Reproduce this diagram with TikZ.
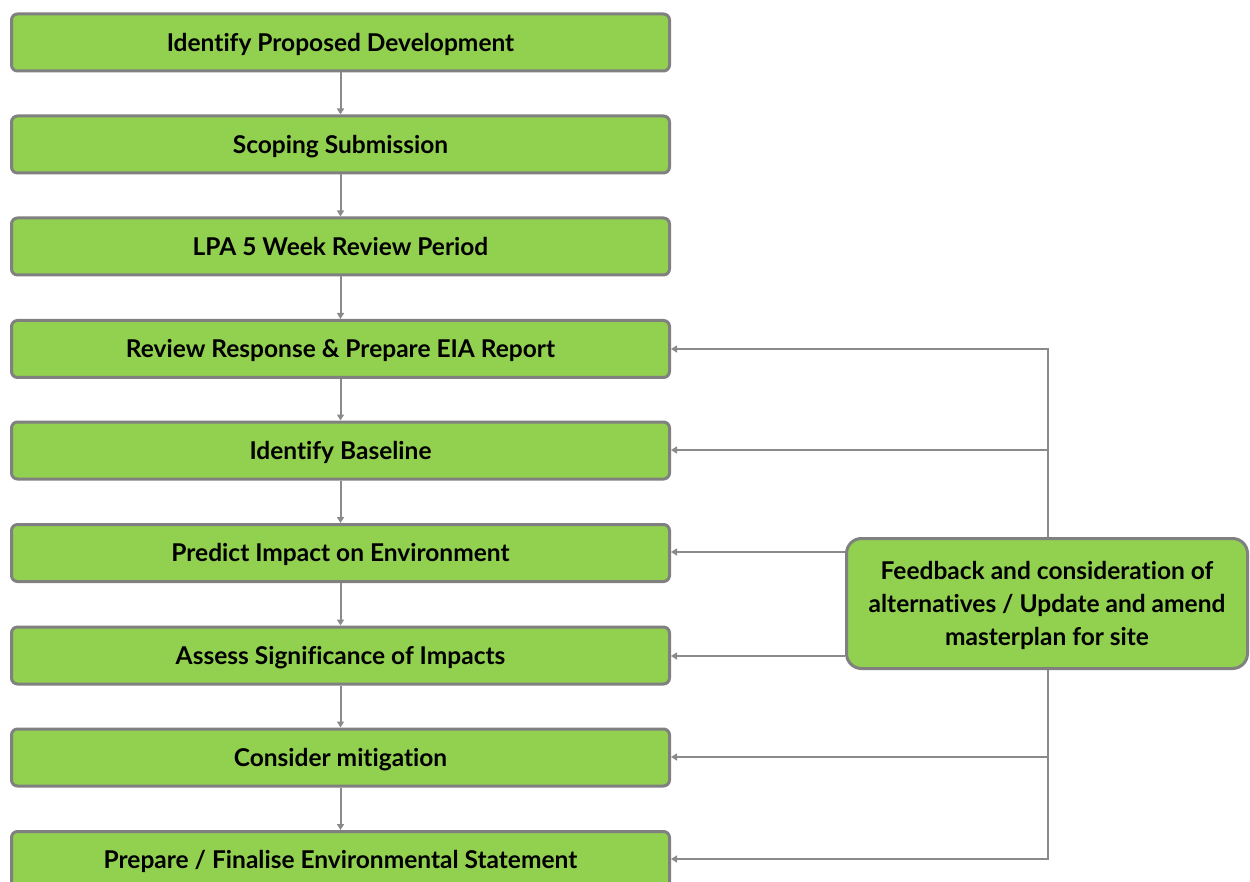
\documentclass[tikz,border=0pt]{standalone}
\usepackage{fontspec}
\setmainfont[Ligatures=NoCommon]{Lato}
\usetikzlibrary{arrows.meta}
\definecolor{boxgreen}{HTML}{92D050}
\definecolor{boxgray}{HTML}{808080}
\definecolor{linegray}{HTML}{8A8A8A}
\begin{document}
\begin{tikzpicture}[x=1pt,y=-1pt,
  stepbox/.style={draw=boxgray, line width=3pt, fill=boxgreen, rounded corners=6pt,
    minimum width=658pt, minimum height=57pt, inner sep=0pt,
    text height=17.5pt, text depth=0pt,
    font=\bfseries\fontsize{24.5}{28}\selectfont},
  fbbox/.style={draw=boxgray, line width=3pt, fill=boxgreen, rounded corners=15pt,
    minimum width=401pt, minimum height=130pt, inner sep=0pt},
  fbtextstyle/.style={font=\bfseries\fontsize{24.5}{33}\selectfont, align=center, inner sep=0pt},
  conn/.style={draw=linegray, line width=2pt},
  arr/.style={conn, -{Triangle[length=6pt,width=7pt]}}]
\useasboundingbox (0,0) rectangle (1250,882);
\clip (0,0) rectangle (1250,882);
\node[stepbox] (b1) at (340.5,42.5) {Identify Proposed Development};
\node[stepbox] (b2) at (340.5,144.5) {Scoping Submission};
\node[stepbox] (b3) at (340.5,246.5) {LPA 5 Week Review Period};
\node[stepbox] (b4) at (340.5,349) {Review Response \& Prepare EIA Report};
\node[stepbox] (b5) at (340.5,450.5) {Identify Baseline};
\node[stepbox] (b6) at (340.5,553) {Predict Impact on Environment};
\node[stepbox] (b7) at (340.5,655.5) {Assess Significance of Impacts};
\node[stepbox] (b8) at (340.5,757.5) {Consider mitigation};
\node[stepbox] (b9) at (340.5,860) {Prepare / Finalise Environmental Statement};
\node[fbbox] (fb) at (1047,603.5) {};
\node[fbtextstyle] (fbtext) at ([yshift=-2pt]fb.center) {Feedback and consideration of\\alternatives / Update and amend\\masterplan for site};
\foreach \a/\b in {b1/b2,b2/b3,b3/b4,b4/b5,b5/b6,b6/b7,b7/b8,b8/b9}
  \draw[arr] (\a.south) -- (\b.north);
\coordinate (jt) at (1048,349);
\coordinate (j5) at (1048,450);
\coordinate (j8) at (1048,757);
\coordinate (jb) at (1048,859);
\draw[conn] (fb.north -| jt) -- (jt);
\draw[conn] (fb.south -| jb) -- (jb);
\draw[arr] ([xshift=1pt]jt) -- (b4.east |- jt);
\draw[arr] (j5) -- (b5.east |- j5);
\draw[arr] (j8) -- (b8.east |- j8);
\draw[arr] ([xshift=1pt]jb) -- (b9.east |- jb);
\draw[arr] (fb.west |- 0,552) -- (b6.east |- 0,552);
\draw[arr] (fb.west |- 0,656) -- (b7.east |- 0,656);
\end{tikzpicture}
\end{document}
